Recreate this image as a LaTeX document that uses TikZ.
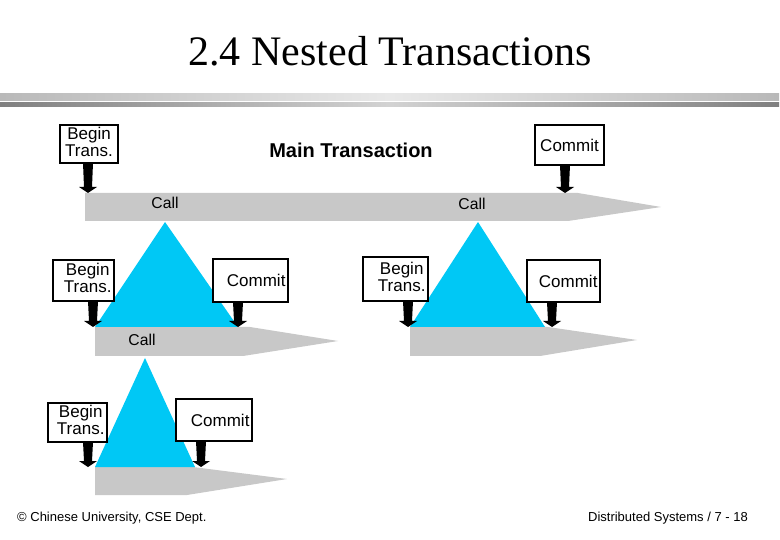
\documentclass[tikz,border=0pt]{standalone}
\usepackage{fontspec}
\setmainfont{Liberation Sans}
\newfontfamily\titlefont{Liberation Serif}
\definecolor{bargray}{HTML}{C8C8C8}
\definecolor{tricyan}{HTML}{00C8F5}
\newcommand\blockarr[3]{\fill[black] (#1-5,#2) -- (#1+5,#2) -- (#1+4,#3-6) -- (#1+9,#3-6) -- (#1,#3) -- (#1-9,#3-6) -- (#1-4,#3-6) -- cycle;}
\newcommand\bt{\begin{tabular}{@{}c@{}}Begin\\Trans.\end{tabular}}
\begin{document}
\begin{tikzpicture}[x=1pt,y=-1pt,
  lbl/.style={draw=black,line width=1.8pt,fill=white,inner sep=0pt,align=center,font=\fontsize{17}{17}\selectfont},
  rbox/.style={lbl,inner xsep=2.5pt,align=right,text width=#1},
  calltxt/.style={font=\fontsize{15.7}{16}\selectfont,inner sep=0pt},
  foot/.style={font=\fontsize{13}{14}\selectfont,inner sep=0pt}]
\useasboundingbox[fill=white] (0,0) rectangle (780,540);
% title
\node[font=\titlefont\fontsize{42}{44}\selectfont,anchor=base,inner sep=0pt] (title) at (390,66) {2.4 Nested Transactions};
% rules
\shade[left color=gray!55,right color=gray!55,middle color=gray!18] (0,94) rectangle (779,101);
\shade[left color=gray!100,right color=gray!100,middle color=gray!35] (0,103) rectangle (779,107);
% bars
\fill[bargray] (85,193) -- (578,193) -- (661,207) -- (568,221) -- (85,221) -- cycle;
\fill[bargray] (95,327) -- (250,327) -- (338,341) -- (243,356) -- (95,356) -- cycle;
\fill[bargray] (410,327) -- (548,327) -- (637,340) -- (540,356) -- (410,356) -- cycle;
\fill[bargray] (95,467) -- (193,467) -- (287,479) -- (187,495) -- (95,495) -- cycle;
% triangles
\fill[tricyan] (165,222) -- (238,327) -- (95,327) -- cycle;
\fill[tricyan] (478,222) -- (545,327) -- (410,327) -- cycle;
\fill[tricyan] (145,358) -- (195,467) -- (95,467) -- cycle;
% bar labels
\node[calltxt] (call0) at (165,203) {Call};
\node[calltxt] (call1) at (472,204) {Call};
\node[calltxt] (call2) at (142,340) {Call};
\node[font=\bfseries\fontsize{20}{21}\selectfont,inner sep=0pt] (main) at (351,150) {Main Transaction};
% boxes
\node[lbl,minimum width=58,minimum height=38] (bt0) at (89,144) {\bt};
\node[lbl,minimum width=69,minimum height=40] (c0) at (569.5,145) {Commit};
\node[rbox=56,minimum height=41] (bt1) at (83.5,280.5) {\bt};
\node[rbox=70,minimum height=43] (c1) at (250.5,280.5) {Commit};
\node[rbox=60,minimum height=44] (bt2) at (395.5,279) {\bt};
\node[rbox=68,minimum height=42] (c2) at (563.5,281) {Commit};
\node[rbox=54,minimum height=39] (bt3) at (77.5,422.5) {\bt};
\node[rbox=71,minimum height=42] (c3) at (214,420) {Commit};
% arrows
\blockarr{88}{163}{193}
\blockarr{565}{165}{193}
\blockarr{93}{301}{327}
\blockarr{238}{302}{327}
\blockarr{408}{301}{327}
\blockarr{552}{302}{327}
\blockarr{88}{442}{467}
\blockarr{201}{441}{467}
% footer
\node[foot,anchor=west] (fl) at (17,518) {© Chinese University, CSE Dept.};
\node[foot,anchor=east] (fr) at (748,518) {Distributed Systems / 7 - 18};
\end{tikzpicture}
\end{document}
